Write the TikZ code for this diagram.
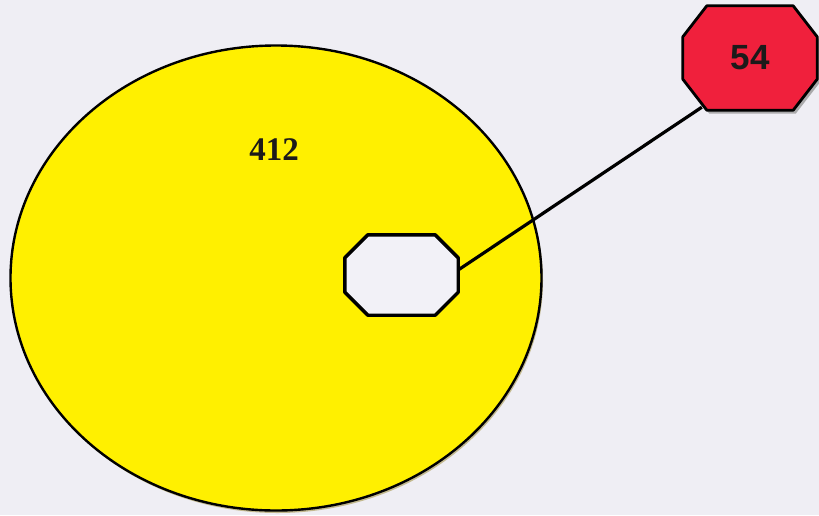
\documentclass[tikz,border=0pt]{standalone}
\usepackage{fontspec}
\setmainfont{Liberation Serif}
\newfontfamily\arialfont{Liberation Sans}
\usetikzlibrary{shapes.geometric,shadows}
\definecolor{bgc}{HTML}{EFEEF4}
\definecolor{yel}{HTML}{FFF000}
\definecolor{redc}{HTML}{F0203C}
\definecolor{holec}{HTML}{F2F1F7}
\definecolor{txt}{HTML}{1C1A1A}
\newcommand{\octpath}[3]{([xshift=#2]#1.north west) -- ([xshift=-#2]#1.north east) -- ([yshift=-#3]#1.north east) -- ([yshift=#3]#1.south east) -- ([xshift=-#2]#1.south east) -- ([xshift=#2]#1.south west) -- ([yshift=#3]#1.south west) -- ([yshift=-#3]#1.north west) -- cycle}
\tikzset{
  bigset/.style={draw=black, line width=2.4pt, ellipse, fill=yel, inner sep=0pt,
    drop shadow={shadow xshift=1.5pt, shadow yshift=-2.5pt, fill=black!45!yellow!70!brown, opacity=0.6}},
  box/.style={rectangle, inner sep=0pt},
  holeline/.style={draw=black, line width=3.4pt, line join=round, fill=holec},
  tagline/.style={draw=black, line width=2.8pt, line join=round, fill=redc},
  link/.style={draw=black, line width=3.2pt}
}
\begin{document}
\begin{tikzpicture}[x=1pt,y=-1pt]
  \fill[bgc] (0,0) rectangle (819,515);
  \useasboundingbox (0,0) rectangle (819,515);
  \node[bigset, minimum width=531pt, minimum height=465pt] (set) at (276,278) {};
  \node[txt, font=\bfseries\fontsize{33}{33}\selectfont] (count) at (274,150) {412};
  \node[box, minimum width=113pt, minimum height=80pt] (hole) at (401.5,275) {};
  \path[holeline] \octpath{hole}{23pt}{23pt};
  \node[box, minimum width=134pt, minimum height=104pt] (tag) at (750,58) {};
  \begin{scope}[transform canvas={xshift=2.5pt,yshift=-3.5pt}]
    \fill[black!40, opacity=0.8] \octpath{tag}{24pt}{31pt};
  \end{scope}
  \path[tagline] \octpath{tag}{24pt}{31pt};
  \node[txt, font=\arialfont\bfseries\fontsize{35}{35}\selectfont] (tagtext) at (tag.center) {54};
  \draw[link] ([yshift=5pt]hole.east) -- ([xshift=19pt,yshift=3pt]tag.south west);
\end{tikzpicture}
\end{document}
